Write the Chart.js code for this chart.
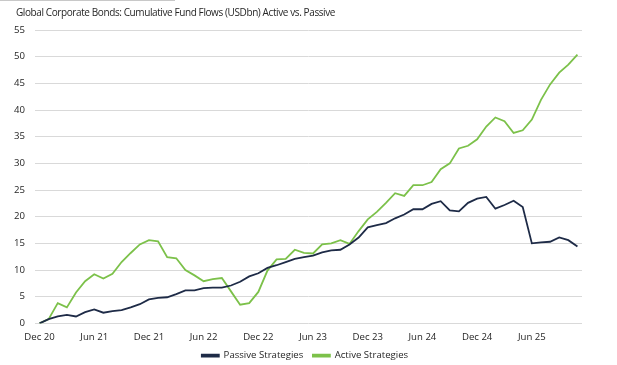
<!DOCTYPE html>
<html>
<head>
<meta charset="utf-8">
<script src="https://cdn.jsdelivr.net/npm/chart.js@4.4.0/dist/chart.umd.min.js"></script>
<style>
  html, body { margin: 0; padding: 0; background: #fff; }
  #wrap { position: relative; width: 617px; height: 365px; }
  #topline { position: absolute; left: 0; top: 0; width: 175px; height: 1px; background: #c8c8c8; }
  #title {
    position: absolute; left: 16px; top: 5px;
    font-family: "Open Sans", "Noto Sans", sans-serif;
    font-size: 10px; letter-spacing: -0.4px; color: #262626;
    white-space: nowrap;
  }
</style>
</head>
<body>
<div id="wrap">
  <div id="topline"></div>
  <div id="title">Global Corporate Bonds: Cumulative Fund Flows (USDbn) Active vs. Passive</div>
  <canvas id="flowsChart" width="617" height="365"></canvas>
</div>
<script>
// monthly, Dec 20 .. Nov 25
const monthNames = ['Jan', 'Feb', 'Mar', 'Apr', 'May', 'Jun', 'Jul', 'Aug', 'Sep', 'Oct', 'Nov', 'Dec'];
const months = [];
for (let i = 0; i < 60; i++) {
    const m = (11 + i) % 12;
    const y = 20 + Math.floor((11 + i) / 12);
    months.push(monthNames[m] + ' ' + y);
}
const xTickLabels = ['Dec 20', 'Jun 21', 'Dec 21', 'Jun 22', 'Dec 22', 'Jun 23', 'Dec 23', 'Jun 24', 'Dec 24', 'Jun 25'];
const yTicks = [0, 5, 10, 15, 20, 25, 30, 35, 40, 45, 50, 55];

const passive = [
    0, 0.8, 1.3, 1.6, 1.3, 2.1, 2.6, 2.0, 2.3, 2.5,
    3.0, 3.6, 4.5, 4.8, 4.9, 5.5, 6.2, 6.2, 6.6, 6.7,
    6.7, 7.1, 7.8, 8.8, 9.4, 10.4, 10.9, 11.5, 12.1, 12.4,
    12.7, 13.3, 13.7, 13.8, 14.8, 16.1, 18.0, 18.4, 18.8, 19.7,
    20.4, 21.4, 21.4, 22.4, 22.9, 21.2, 21.0, 22.6, 23.4, 23.7,
    21.5, 22.2, 23.0, 21.8, 15.0, 15.2, 15.3, 16.1, 15.6, 14.4
];
const active = [
    0, 0.8, 3.8, 3.0, 5.8, 7.9, 9.2, 8.4, 9.3, 11.5,
    13.2, 14.8, 15.6, 15.4, 12.4, 12.2, 10.0, 9.0, 7.9, 8.3,
    8.5, 6.0, 3.5, 3.8, 5.9, 9.9, 12.0, 12.1, 13.8, 13.2,
    13.1, 14.8, 15.0, 15.6, 14.9, 17.3, 19.5, 20.9, 22.6, 24.4,
    23.9, 25.9, 25.9, 26.5, 28.9, 30.0, 32.8, 33.3, 34.5, 36.9,
    38.6, 37.9, 35.7, 36.2, 38.2, 41.9, 44.8, 47.0, 48.5, 50.4
];

const textColor = '#262626';
const fontFamily = '"Open Sans", "Noto Sans", sans-serif';

// nudge the legend to the right, like the original
const legendShift = {
    id: 'legendShift',
    afterLayout(chart) {
        chart.legend.left += 12;
        chart.legend.right += 12;
    }
};

const ctx = document.getElementById('flowsChart').getContext('2d');
new Chart(ctx, {
    type: 'line',
    data: {
        labels: months,
        datasets: [
            {
                label: 'Passive Strategies',
                data: passive,
                borderColor: '#1e2b47',
                backgroundColor: '#1e2b47',
                borderWidth: 1.8,
                pointRadius: 0,
                tension: 0
            },
            {
                label: 'Active Strategies',
                data: active,
                borderColor: '#7cc14a',
                backgroundColor: '#7cc14a',
                borderWidth: 1.8,
                pointRadius: 0,
                tension: 0
            }
        ]
    },
    plugins: [legendShift],
    options: {
        responsive: false,
        animation: false,
        layout: { padding: { left: 4, right: 35, top: 30, bottom: -5.5 } },
        plugins: {
            legend: {
                position: 'bottom',
                labels: {
                    color: textColor,
                    font: { family: fontFamily, size: 9.6 },
                    boxWidth: 17,
                    boxHeight: 2,
                    padding: 0,
                    generateLabels: function(chart) {
                        const items = Chart.defaults.plugins.legend.labels.generateLabels(chart);
                        // spacing between the two entries
                        items[0].text += '\u2002\u2002';
                        return items;
                    }
                }
            },
            tooltip: { enabled: false }
        },
        scales: {
            x: {
                offset: true,
                grid: { display: false, drawTicks: false },
                border: { display: false },
                ticks: {
                    autoSkip: false,
                    maxRotation: 0,
                    padding: 8,
                    color: textColor,
                    font: { family: fontFamily, size: 9.6 },
                    callback: function(val, i) {
                        return xTickLabels.includes(months[i]) ? months[i] : '';
                    }
                }
            },
            y: {
                min: 0,
                max: 55,
                grid: { color: '#d9d9d9', lineWidth: 1, drawTicks: false },
                border: { display: false },
                afterBuildTicks: function(axis) {
                    axis.ticks = yTicks.map(v => ({ value: v }));
                },
                ticks: {
                    padding: 10,
                    color: textColor,
                    font: { family: fontFamily, size: 9.6 }
                }
            }
        }
    }
});
</script>
</body>
</html>
